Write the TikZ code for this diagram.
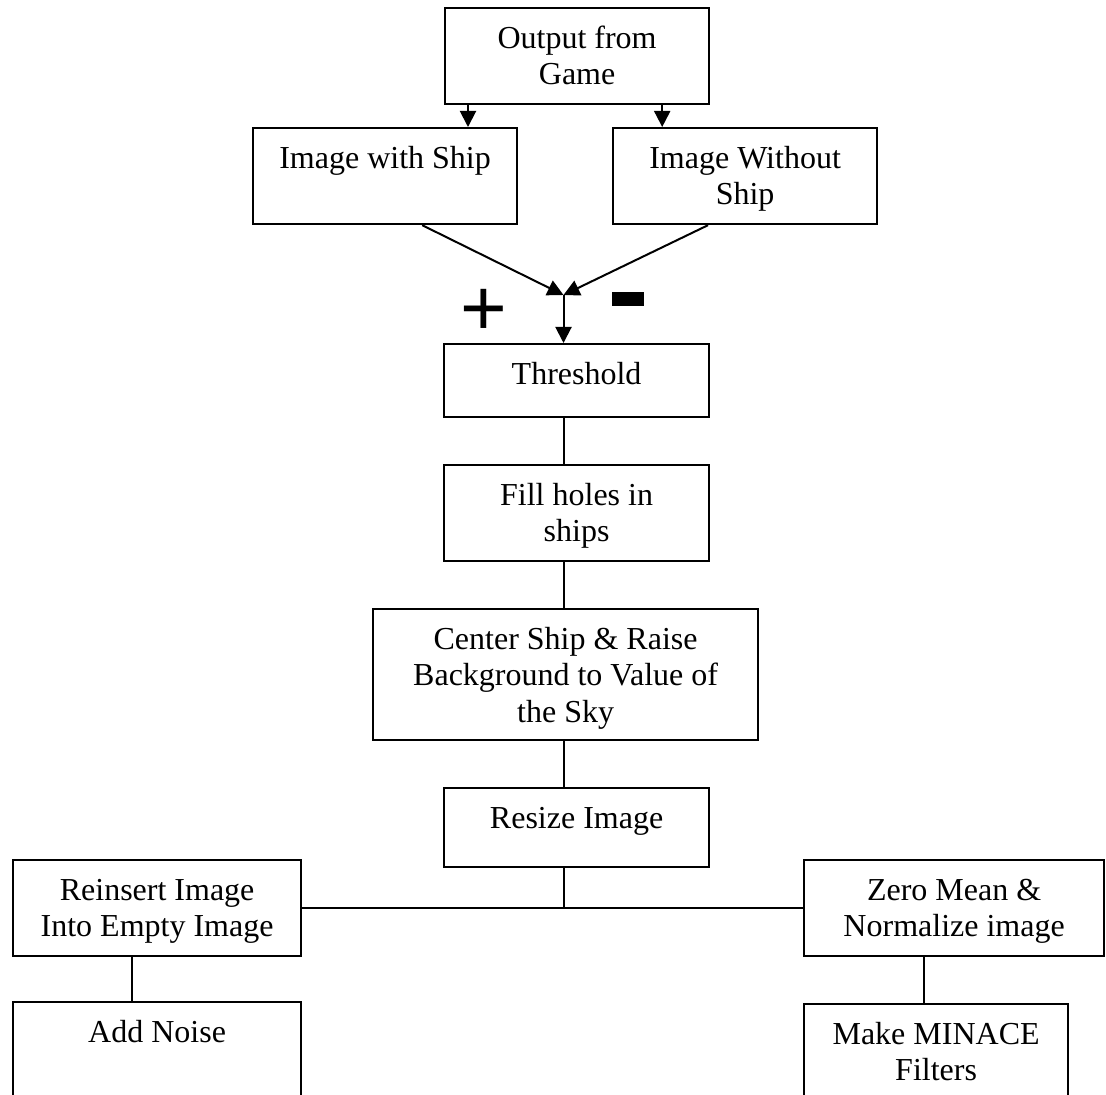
\documentclass[tikz,border=0pt]{standalone}
\usepackage{fontspec}
\setmainfont{Liberation Serif}
\newfontfamily\signfont{Liberation Sans}
\usetikzlibrary{arrows.meta}
\newcommand{\stagetext}[3]{\parbox[c][#2][t]{#1}{\centering\rule{0pt}{20pt}#3}}

\begin{document}
\begin{tikzpicture}[x=0.5pt,y=-0.5pt,
  stage/.style={draw, line width=1.1pt, inner sep=0pt, anchor=north west,
    font=\fontsize{16}{18.25}\selectfont},
  link/.style={line width=1pt},
  feed/.style={line width=1pt, -{Triangle[length=8pt,width=8pt]}}]
\useasboundingbox (0,0) rectangle (1106,1095);

% processing boxes
\node[stage] (out) at (444,7) {\stagetext{132pt}{48pt}{Output from\\Game}};
\node[stage] (withship) at (252,127) {\stagetext{132pt}{48pt}{Image with Ship}};
\node[stage] (noship) at (612,127) {\stagetext{132pt}{48pt}{Image Without\\Ship}};
\node[stage] (thresh) at (443,343) {\stagetext{132.5pt}{36.5pt}{Threshold}};
\node[stage] (fill) at (443,464) {\stagetext{132.5pt}{48pt}{Fill holes in\\ships}};
\node[stage] (center) at (372,608) {\stagetext{192.5pt}{65.5pt}{Center Ship \& Raise\\Background to Value of\\the Sky}};
\node[stage] (resize) at (443,787) {\stagetext{132.5pt}{39.5pt}{Resize Image}};
\node[stage] (reinsert) at (12,859) {\stagetext{144pt}{48pt}{Reinsert Image\\Into Empty Image}};
\node[stage] (zero) at (803,859) {\stagetext{150pt}{48pt}{Zero Mean \&\\Normalize image}};
\node[stage] (noise) at (12,1001) {\stagetext{144pt}{50pt}{Add Noise}};
\node[stage] (minace) at (803,1003) {\stagetext{132pt}{49pt}{Make MINACE\\Filters}};

% difference signs
\node[font=\signfont\fontsize{40}{40}\selectfont, inner sep=0pt, anchor=base] (plus) at (484,336) {+};
\node[fill, inner sep=0pt, minimum width=16pt, minimum height=7pt] (minus) at (628,299.5) {};

% arrows at the top
\coordinate (join) at (563.5,295);
\draw[feed] ([xshift=12pt]out.south west) -- ([xshift=12pt]out.south west |- withship.north);
\draw[feed] ([xshift=-24pt]out.south east) -- ([xshift=-24pt]out.south east |- noship.north);
\draw[feed] ([xshift=-48pt]withship.south east) -- (join);
\draw[feed] ([xshift=48pt]noship.south west) -- (join);
\draw[feed] (join) -- (join |- thresh.north);

% plain links
\draw[link] (join |- thresh.south) -- (join |- fill.north);
\draw[link] (join |- fill.south) -- (join |- center.north);
\draw[link] (join |- center.south) -- (join |- resize.north);
\draw[link] (join |- resize.south) -- (join |- reinsert.east);
\draw[link] (reinsert.east) -- (reinsert.east -| zero.west);
\draw[link] ([xshift=60pt]reinsert.south west) -- ([xshift=60pt]reinsert.south west |- noise.north);
\draw[link] ([xshift=60.5pt]zero.south west) -- ([xshift=60.5pt]zero.south west |- minace.north);
\end{tikzpicture}
\end{document}
